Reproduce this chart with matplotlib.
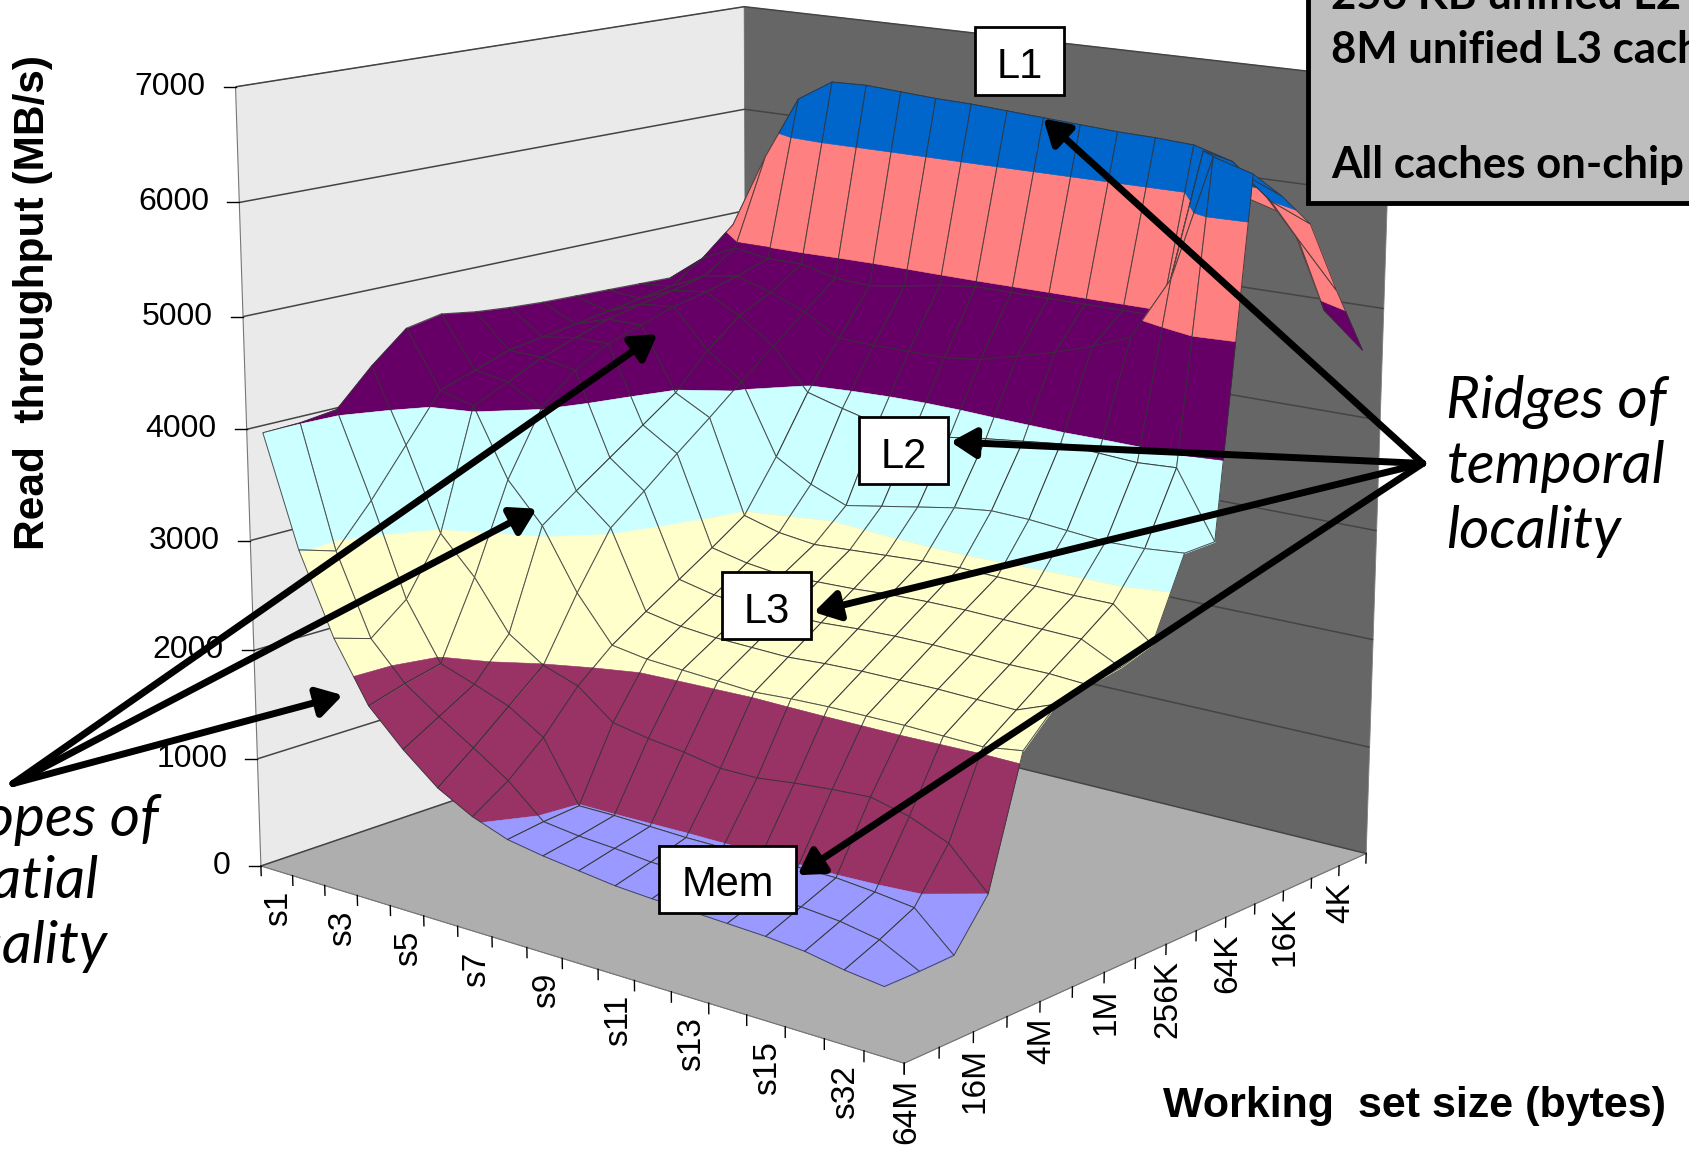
import numpy as np
import matplotlib
matplotlib.use('Agg')
import matplotlib.pyplot as plt
from matplotlib.patches import Rectangle
from mpl_toolkits.mplot3d import proj3d
from mpl_toolkits.mplot3d.art3d import Poly3DCollection, Line3DCollection

plt.rcParams['font.family'] = ['Liberation Sans', 'DejaVu Sans']

# read throughput (MB/s); one list per stride, sizes 64M ... 2K
s1  = [4000, 4010, 4050, 4370, 4640, 4700, 4650, 4620, 4600, 4590, 4580, 4570, 4560, 4550, 4630, 4910]
s2  = [3020, 2920, 3290, 3710, 4130, 4240, 4350, 4400, 4450, 4500, 4550, 4600, 4800, 5060, 4900, 4750]
s3  = [2300, 2200, 2460, 2970, 4050, 4190, 4340, 4450, 4550, 4620, 4680, 4750, 4950, 5760, 5400, 4900]
s4  = [1770, 1870, 1950, 2640, 3440, 4010, 4280, 4450, 4550, 4650, 4720, 4800, 4900, 6350, 6000, 5700]
s5  = [1460, 1650, 1840, 2200, 3090, 3320, 3540, 3760, 3980, 4300, 4550, 4700, 4900, 6550, 6250, 5950]
s6  = [1200, 1450, 1720, 1990, 2550, 3050, 3300, 3560, 3810, 4070, 4320, 4570, 4820, 6560, 6260, 5960]
s7  = [1030, 1240, 1520, 1880, 2150, 2360, 2560, 2760, 2970, 3430, 3950, 4380, 4800, 6540, 6240, 5940]
s8  = [915, 960, 990, 1630, 2100, 2300, 2490, 2690, 2880, 3240, 3860, 4370, 4850, 6520, 6220, 5920]
s9  = [860, 920, 990, 1570, 2080, 2270, 2460, 2650, 2840, 3110, 3780, 4370, 4910, 6510, 6210, 5910]
s10 = [820, 900, 980, 1530, 2060, 2260, 2460, 2660, 2860, 3170, 3760, 4370, 4950, 6490, 6190, 5890]
s11 = [780, 870, 970, 1470, 2040, 2250, 2460, 2670, 2880, 3230, 3780, 4410, 4950, 6470, 6170, 5870]
s12 = [760, 860, 970, 1470, 2060, 2270, 2480, 2690, 2900, 3290, 3830, 4500, 4950, 6450, 6150, 5850]
s13 = [750, 860, 970, 1510, 2070, 2280, 2490, 2700, 2910, 3330, 3870, 4590, 4950, 6430, 6130, 5830]
s14 = [735, 850, 980, 1540, 2070, 2280, 2490, 2700, 2900, 3320, 3910, 4700, 4950, 6420, 6120, 5820]
s15 = [720, 850, 980, 1560, 2070, 2280, 2480, 2690, 2890, 3290, 3890, 4840, 4950, 6400, 6100, 5800]
s16 = [690, 820, 950, 1480, 2060, 2270, 2470, 2680, 2880, 3260, 3870, 5400, 6450, 6300, 6000, 5700]
s32 = [630, 760, 910, 1340, 2050, 2260, 2470, 2670, 2880, 3270, 3890, 6500, 6300, 6000, 5600, 4900]
s64 = [590, 590, 600, 1000, 2100, 2390, 2450, 2500, 2600, 3300, 3310, 6400, 6150, 5850, 5200, 4600]
Z = np.array([s1, s2, s3, s4, s5, s6, s7, s8, s9, s10, s11, s12, s13, s14, s15, s16, s32, s64], float)

stride_labels = ['s1', 's3', 's5', 's7', 's9', 's11', 's13', 's15', 's32']
size_labels = ['64M', '16M', '4M', '1M', '256K', '64K', '16K', '4K']
z_ticks = [0, 1000, 2000, 3000, 4000, 5000, 6000, 7000]
band_edges = [0, 1000, 2000, 3000, 4000, 5000, 6000, 7000.1]
band_colors = ['#9999FF', '#993366', '#FFFFCC', '#CCFFFF', '#660066', '#FF8080', '#0066CC']

W, H = 1690, 1153
S = 2000
fig = plt.figure(figsize=(W / 100, H / 100), dpi=100)
ax = fig.add_subplot(projection='3d')
cx, cy = 788.9, 645.6
ax.set_position([(cx - S / 2) / W, (cy - S / 2) / H, S / W, S / H])
ax.set_xlim(0, 17); ax.set_ylim(0, 15); ax.set_zlim(0, 7000)
ax.set_proj_type('persp', focal_length=0.4)
ax.view_init(elev=13.94, azim=-50.017)
ax.set_box_aspect((1.052, 0.946, 1), zoom=0.672)
ax.apply_aspect()
ax.computed_zorder = False

xs = (np.arange(18) + 0.5) * 17 / 18


def clip(poly, lo, hi):
    def c1(P, f):
        out = []
        for a, b in zip(P, P[1:] + P[:1]):
            fa, fb = f(a), f(b)
            if fa >= 0:
                out.append(a)
            if fa * fb < 0:
                t = fa / (fa - fb)
                out.append(tuple(np.add(a, t * np.subtract(b, a))))
        return out
    P = c1(poly, lambda a: a[2] - lo)
    if P:
        P = c1(P, lambda a: hi - a[2])
    return P


n = 10
for i in range(17):
    for j in range(14, -1, -1):
        q4 = [(xs[i], j, Z[i, j]), (xs[i + 1], j, Z[i + 1, j]),
              (xs[i + 1], j + 1, Z[i + 1, j + 1]), (xs[i], j + 1, Z[i, j + 1])]
        ps, cs = [], []
        for b in range(7):
            P = clip(q4, band_edges[b], band_edges[b + 1])
            if len(P) >= 3:
                ps.append(P); cs.append(band_colors[b])
        n += 1
        ax.add_collection3d(Poly3DCollection(ps, facecolors=cs, edgecolors=cs, linewidths=.4, zorder=n))
        n += 1
        ax.add_collection3d(Line3DCollection([q4 + [q4[0]]], colors='#333333', linewidths=.7, alpha=.85, zorder=n))

ax.xaxis.set_pane_color('#EAEAEA'); ax.yaxis.set_pane_color('#666666'); ax.zaxis.set_pane_color('#AEAEAE')
for a in (ax.xaxis, ax.yaxis, ax.zaxis):
    a.pane.set_edgecolor('#808080'); a.pane.set_linewidth(.6)
    a.line.set_color('#777777'); a.line.set_linewidth(.8)
ax.xaxis._axinfo['grid']['linewidth'] = 0; ax.yaxis._axinfo['grid']['linewidth'] = 0
ax.zaxis._axinfo['grid'].update(color='#444444', linewidth=1.1)
ax.zaxis._axinfo['tick']['inward_factor'] = 0; ax.zaxis._axinfo['tick']['outward_factor'] = 0
ax.set_xticks([]); ax.set_yticks([])
ax.set_zticks(z_ticks); ax.set_zticklabels([])
ax.zaxis.set_ticks_position('lower')

T = dict(color='k', lw=1, zorder=5)
for k in range(19):
    x = k * 17 / 18
    ax.plot([x, x], [0, 0], [0, -90], **T)
for k in range(16):
    ax.plot([17, 17], [k, k], [0, -90], **T)

M = ax.get_proj()


def pxy(x, y, z):
    u, v, _ = proj3d.proj_transform(x, y, z, M)
    p = ax.transData.transform((u, v))
    return p[0], H - p[1]


ov = fig.add_axes([0, 0, 1, 1], zorder=10)
ov.set_xlim(0, W); ov.set_ylim(H, 0); ov.axis('off')
f = W / 1568

for k, l in enumerate(stride_labels):
    px, py = pxy((2 * k + .5) * 17 / 18, 0, 0)
    ov.text(px + 2, py + 20, l, rotation=90, ha='center', va='top', fontsize=24)
for k, l in enumerate(size_labels):
    px, py = pxy(17, 2 * k, 0)
    ov.text(px + 2, py + 16, l, rotation=90, ha='center', va='top', fontsize=24)
for z in z_ticks:
    px, py = pxy(0, 0, z)
    ov.plot([px - 12, px], [py, py], color='k', lw=1)
    ov.text(px - 28 * f, py, str(z), ha='right', va='center', fontsize=23)


def arrow(a, b):
    ov.annotate('', xy=(b[0] * f, b[1] * f), xytext=(a[0] * f, a[1] * f),
                arrowprops=dict(arrowstyle='-|>,head_length=1.0,head_width=0.6', lw=5, color='k',
                                shrinkA=0, shrinkB=0, mutation_scale=15))


for t in [(968, 110), (882, 410), (755, 568), (740, 812)]:
    arrow((1320, 430), t)
for t in [(610, 310), (498, 472), (318, 645)]:
    arrow((12, 727), t)
for (x0, y0, x1, y1, s) in [(905, 25, 987, 88, 'L1'), (797, 387, 880, 449, 'L2'),
                            (670, 531, 752, 593, 'L3'), (611, 785, 739, 847, 'Mem')]:
    ov.add_patch(Rectangle((x0 * f, y0 * f), (x1 - x0) * f, (y1 - y0) * f, fc='w', ec='k', lw=2, zorder=5))
    ov.text((x0 + x1) / 2 * f, (y0 + y1) / 2 * f + 6, s, ha='center', va='center', fontsize=30, zorder=6)
ov.add_patch(Rectangle((1214 * f, -30), 500, (188 * f + 30), fc='#BEBEBE', ec='k', lw=3.5, zorder=5))
for y, s in [(-4, '256 KB unified L2 cache'), (46, '8M unified L3 cache'), (153, 'All caches on-chip')]:
    ov.text(1235 * f, y * f, s, fontsize=31.5, fontweight='bold', family='Lato', va='center', zorder=6)
for y, s in [(373, 'Ridges of'), (433, 'temporal'), (493, 'locality')]:
    ov.text(1342 * f, y * f, s, fontsize=42, style='italic', family='Lato', va='center')
for y, s, x in [(760, 'Slopes of', -55), (818, 'spatial', -58), (878, 'locality', -63)]:
    ov.text(x * f, y * f, s, fontsize=42, style='italic', family='Lato', va='center')
ov.text(31 * f, 281 * f, 'Read  throughput (MB/s)', rotation=90, fontsize=30.5, fontweight='bold', ha='center', va='center')
ov.text(1312 * f, 1026 * f, 'Working  set size (bytes)', fontsize=31, fontweight='bold', ha='center', va='center')
fig.savefig('out.png', dpi=100)
